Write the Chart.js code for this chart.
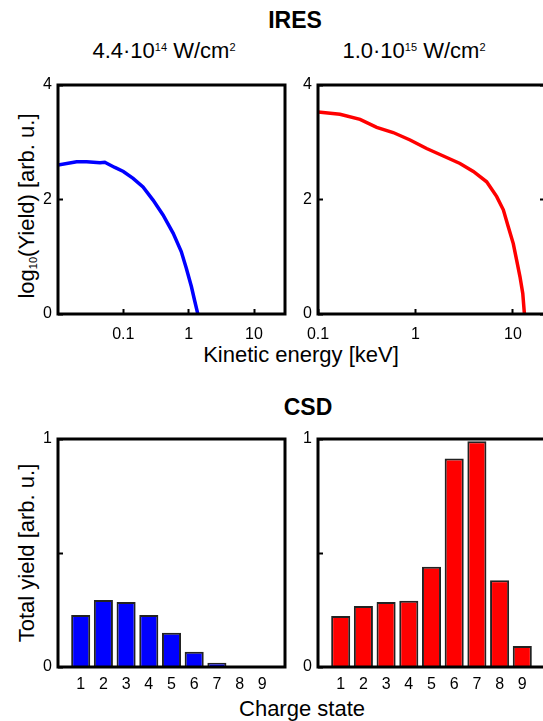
<!DOCTYPE html>
<html>
<head>
<meta charset="utf-8">
<script src="https://cdn.jsdelivr.net/npm/chart.js@4.4.1/dist/chart.umd.min.js"></script>
<style>
  html, body { margin: 0; padding: 0; width: 543px; height: 721px; overflow: hidden; background: #fff; }
  body { position: relative; font-family: "Liberation Sans", Arial, sans-serif; color: #000; }
  canvas { position: absolute; }
  .t { position: absolute; white-space: nowrap; line-height: 1; transform: translate(-50%, -50%); }
  .b { font-weight: bold; }
  .v { transform: translate(-50%, -50%) rotate(-90deg); }
  .sup { font-size: 11px; position: relative; top: -7px; }
  .sub { font-size: 11px; position: relative; top: 3px; }
</style>
</head>
<body>
<div class="t b" style="left:295px;top:19.5px;font-size:23px">IRES</div>
<div class="t" style="left:164px;top:50.5px;font-size:22px">4.4·10<span class="sup">14</span> W/cm<span class="sup">2</span></div>
<div class="t" style="left:414px;top:50.5px;font-size:22px">1.0·10<span class="sup">15</span> W/cm<span class="sup">2</span></div>
<div class="t v" style="left:27px;top:205.5px;font-size:22px">log<span class="sub">10</span>(Yield) [arb. u.]</div>
<div class="t" style="left:301px;top:355px;font-size:22px">Kinetic energy [keV]</div>
<div class="t b" style="left:308px;top:406.5px;font-size:23px">CSD</div>
<div class="t v" style="left:27px;top:553px;font-size:22px">Total yield [arb. u.]</div>
<div class="t" style="left:302px;top:708.5px;font-size:22px">Charge state</div>

<canvas id="ires1" width="260" height="269" style="left:30px;top:75px"></canvas>
<canvas id="ires2" width="260" height="269" style="left:290px;top:75px"></canvas>
<canvas id="csd1" width="260" height="268" style="left:30px;top:429px"></canvas>
<canvas id="csd2" width="260" height="268" style="left:290px;top:429px"></canvas>

<script>
// ion energy spectra, log10 of yield vs kinetic energy (keV)
const blueEnergy = [0.01, 0.0193, 0.0274, 0.044, 0.052, 0.074, 0.1, 0.141, 0.2, 0.285, 0.405, 0.58, 0.77, 0.92, 1.10, 1.23, 1.38];
const blueLogYield = [2.60, 2.66, 2.66, 2.64, 2.65, 2.56, 2.49, 2.37, 2.22, 1.99, 1.73, 1.41, 1.09, 0.80, 0.48, 0.24, 0];
const redEnergy = [0.1, 0.168, 0.27, 0.40, 0.59, 0.88, 1.30, 1.93, 2.86, 3.92, 5.37, 6.81, 7.96, 8.96, 10.07, 10.9, 11.8, 12.6, 13.1];
const redLogYield = [3.53, 3.49, 3.40, 3.26, 3.17, 3.04, 2.89, 2.76, 2.63, 2.49, 2.31, 2.05, 1.82, 1.52, 1.23, 0.94, 0.65, 0.36, 0];

// charge state distributions
const chargeStates = [1, 2, 3, 4, 5, 6, 7, 8, 9];
const blueCsd = [0.228, 0.294, 0.285, 0.228, 0.15, 0.067, 0.019, 0, 0];
const redCsd = [0.224, 0.268, 0.285, 0.291, 0.44, 0.914, 0.99, 0.38, 0.092];

const logYieldTicks = [0, 2, 4];
const csdTicks = [0, 0.5, 1];
const csdTickLabels = ["0", "", "1"];
const energyTicks = [0.1, 1, 10];

const FONT = "'Liberation Sans', Arial, sans-serif";

const framePlugin = {
  id: "frame",
  afterDatasetsDraw(chart) {
    const a = chart.chartArea;
    const ctx = chart.ctx;
    ctx.save();
    ctx.strokeStyle = "#000";
    ctx.lineWidth = 3;
    ctx.strokeRect(a.left, a.top, a.right - a.left, a.bottom - a.top);
    ctx.restore();
  }
};

function tickList(vals) {
  return (s) => { s.ticks = vals.map((v) => ({ value: v })); };
}

function noPad(s) {
  s.paddingTop = 0;
  s.paddingBottom = 0;
  s.paddingLeft = 0;
  s.paddingRight = 0;
}

function yAxis(vals, labels) {
  return {
    type: "linear",
    min: vals[0],
    max: vals[vals.length - 1],
    afterBuildTicks: tickList(vals),
    afterFit: (s) => { s.width = 28; noPad(s); },
    border: { display: false },
    grid: { drawOnChartArea: false, tickLength: -5, tickWidth: 2, tickColor: "#000" },
    ticks: {
      color: "#000",
      padding: 11,
      font: { family: FONT, size: 16 },
      callback: (v, i) => (labels ? labels[i] : String(v))
    }
  };
}

function rightTicks(vals) {
  return {
    type: "linear",
    position: "right",
    min: vals[0],
    max: vals[vals.length - 1],
    afterBuildTicks: tickList(vals),
    afterFit: (s) => { s.width = 0; noPad(s); },
    border: { display: false },
    grid: { drawOnChartArea: false, tickLength: -5, tickWidth: 2, tickColor: "#000" },
    ticks: { display: false }
  };
}

function energyAxis(min, max) {
  return {
    type: "logarithmic",
    min: min,
    max: max,
    afterBuildTicks: tickList(energyTicks),
    afterFit: (s) => { s.height = 30; noPad(s); },
    border: { display: false },
    grid: { drawOnChartArea: false, tickLength: -5, tickWidth: 2, tickColor: "#000" },
    ticks: {
      color: "#000",
      padding: 16,
      maxRotation: 0,
      font: { family: FONT, size: 16 },
      callback: (v) => String(v)
    }
  };
}

function chargeAxis() {
  return {
    type: "linear",
    min: 0,
    max: 10,
    offset: false,
    afterBuildTicks: tickList(chargeStates),
    afterFit: (s) => { s.height = 30; noPad(s); },
    border: { display: false },
    grid: { offset: false, drawOnChartArea: false, drawTicks: false },
    ticks: {
      color: "#000",
      padding: 8,
      maxRotation: 0,
      font: { family: FONT, size: 16 },
      callback: (v) => String(v)
    }
  };
}

const common = {
  responsive: false,
  animation: false,
  devicePixelRatio: 1,
  layout: { autoPadding: false, padding: { top: 10, right: 5, left: 0, bottom: 0 } },
  plugins: { legend: { display: false }, tooltip: { enabled: false } }
};

function spectrum(id, energy, logYield, color, xMin, xMax, withRight) {
  const scales = { x: energyAxis(xMin, xMax), y: yAxis(logYieldTicks) };
  if (withRight) scales.y2 = rightTicks(logYieldTicks);
  new Chart(document.getElementById(id), {
    type: "line",
    data: {
      datasets: [{
        data: energy.map((e, i) => ({ x: e, y: logYield[i] })),
        borderColor: color,
        borderWidth: 3.5,
        pointRadius: 0,
        tension: 0,
        yAxisID: "y"
      }]
    },
    options: Object.assign({}, common, { scales: scales }),
    plugins: [framePlugin]
  });
}

function distribution(id, values, color) {
  new Chart(document.getElementById(id), {
    type: "bar",
    data: {
      datasets: [{
        data: chargeStates.map((c, i) => ({ x: c, y: values[i] })),
        backgroundColor: color,
        borderColor: "#222",
        borderWidth: 2,
        barPercentage: 0.84,
        categoryPercentage: 1
      }]
    },
    options: Object.assign({}, common, {
      scales: { x: chargeAxis(), y: yAxis(csdTicks, csdTickLabels) }
    }),
    plugins: [framePlugin]
  });
}

spectrum("ires1", blueEnergy, blueLogYield, "#0000ff", 0.01, 29.8, false);
spectrum("ires2", redEnergy, redLogYield, "#ff0000", 0.1, 21.3, true);
distribution("csd1", blueCsd, "#0000ff");
distribution("csd2", redCsd, "#ff0000");
</script>
</body>
</html>
